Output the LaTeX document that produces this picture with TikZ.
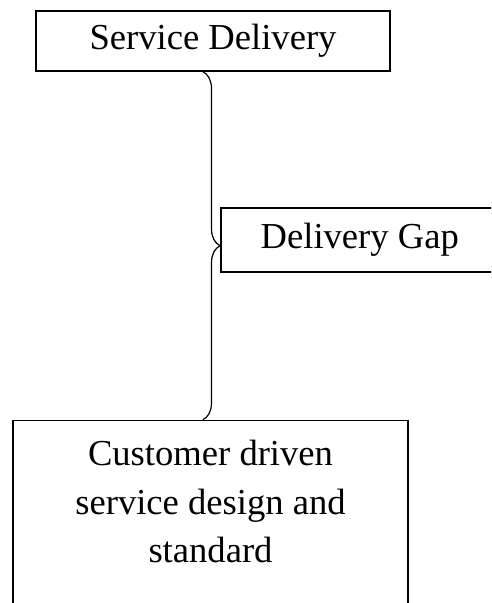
\documentclass[tikz,border=0pt]{standalone}
\usepackage{fontspec}
\setmainfont{Liberation Serif}
\usetikzlibrary{positioning,decorations.pathreplacing}
\tikzset{%
  % Specifications for style of nodes:
   base/.style = {rectangle, draw=black, line width=0.75pt,
                  text centered, align=center, inner sep=0pt,
                  font=\fontsize{18.3pt}{24.2pt}\selectfont},
   topbox/.style = {base, minimum width=177pt, minimum height=30pt},
   gapbox/.style = {base, minimum width=139pt, minimum height=32pt},
   designbox/.style = {base, minimum width=197.5pt, inner ysep=10pt},
  % Specifications for style of the brace:
   gapbrace/.style = {decorate, decoration={brace, amplitude=8.5pt},
                      line width=0.6pt},
}

\begin{document}
\begin{tikzpicture}[x=0.5pt, y=-0.5pt]
  \useasboundingbox (0,0) rectangle (491,603);
  \clip (0,0) rectangle (491,603);

  % Specification of nodes (position, etc.)
  \node (service) [topbox] at (213,41) {Service Delivery};
  \node (design) [designbox, below=174pt of service, xshift=-1.25pt]
        {Customer driven\\service design and\\standard\\\mbox{}};
  \node (gap) [gapbox, anchor=west] at (220,240) {Delivery Gap};

  % Specification of the brace
  \draw[gapbrace] ([xshift=-5pt]service.south) -- ([xshift=-3.75pt]design.north);
\end{tikzpicture}
\end{document}
